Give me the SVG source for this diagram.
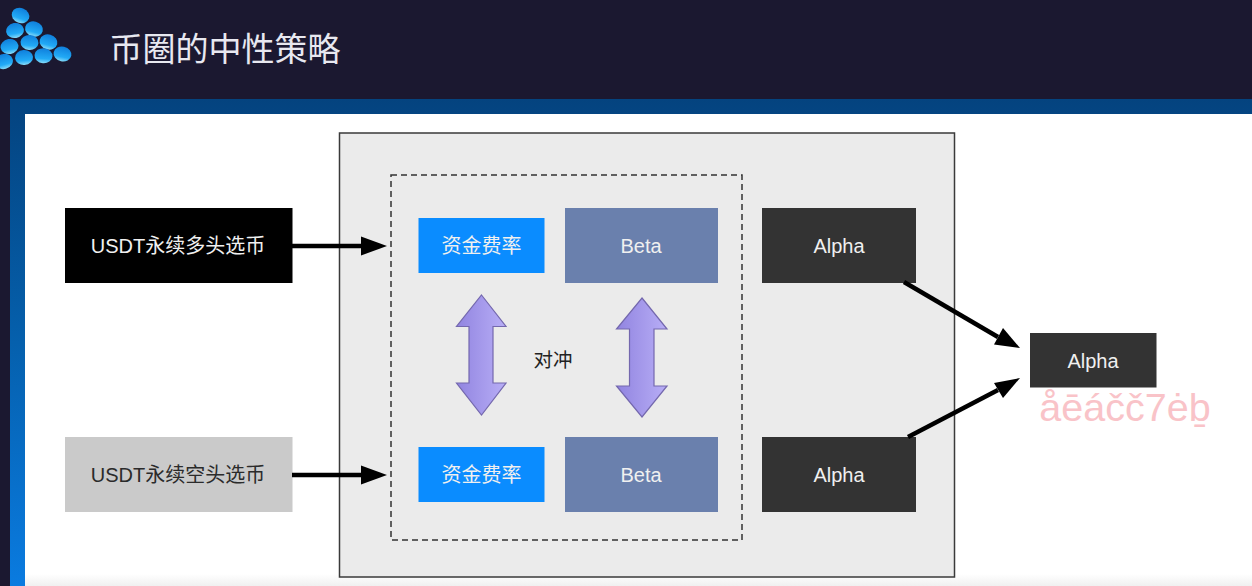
<svg xmlns="http://www.w3.org/2000/svg" width="1252" height="586" viewBox="0 0 1252 586">
<defs>
<style>
text{font-family:"Liberation Sans","Noto Sans CJK SC",sans-serif;text-anchor:middle}
.w{fill:#f0f0f0;font-size:20px}
.k{fill:#2b2b2b;font-size:20px}
.fee{fill:#0a8cff}
.beta{fill:#6a80ad}
.alpha{fill:#333333}
.dbl{fill:url(#pur);stroke:#7468ae;stroke-width:1.2}
.ar{stroke:#000;stroke-width:4.5;fill:none}
.ah{fill:#000}
.dot{fill:url(#dot)}
</style>
<linearGradient id="pur" x1="0" x2="1" y1="0" y2="0"><stop offset="0" stop-color="#9184e0"/><stop offset="1" stop-color="#b8aef6"/></linearGradient>
<linearGradient id="dot" x1="0" x2="0" y1="0" y2="1"><stop offset="0" stop-color="#0f7fdc"/><stop offset=".7" stop-color="#22aaf6"/><stop offset="1" stop-color="#8adcf8"/></linearGradient>
<linearGradient id="side" x1="0" x2="0" y1="0" y2="1"><stop offset="0" stop-color="#04437f"/><stop offset=".5" stop-color="#0560ad"/><stop offset="1" stop-color="#0a7be0"/></linearGradient>
<linearGradient id="fade" x1="0" x2="0" y1="0" y2="1"><stop offset="0" stop-color="#ffffff"/><stop offset="1" stop-color="#f0f0f0"/></linearGradient>
</defs>
<rect width="1252" height="586" fill="#1b1830"/>
<rect x="10" y="99" width="1242" height="487" fill="url(#side)"/>
<rect x="25" y="114" width="1227" height="472" fill="#ffffff"/>
<rect x="25" y="574" width="1227" height="12" fill="url(#fade)"/>
<g id="logo">
<ellipse class="dot" cx="20.500" cy="15.500" rx="9" ry="7.500" transform="rotate(20 20.500 15.500)"/>
<ellipse class="dot" cx="15" cy="30.500" rx="9" ry="7.500" transform="rotate(-10 15 30.500)"/>
<ellipse class="dot" cx="34" cy="29" rx="9" ry="7.500" transform="rotate(15 34 29)"/>
<ellipse class="dot" cx="9.500" cy="46.500" rx="9" ry="7.500" transform="rotate(-10 9.500 46.500)"/>
<ellipse class="dot" cx="29.500" cy="42.500" rx="9" ry="7.500" transform="rotate(5 29.500 42.500)"/>
<ellipse class="dot" cx="48.500" cy="42" rx="9" ry="7.500" transform="rotate(15 48.500 42)"/>
<ellipse class="dot" cx="4" cy="61.500" rx="9" ry="7.500" transform="rotate(-15 4 61.500)"/>
<ellipse class="dot" cx="24" cy="57.500" rx="9" ry="7.500" transform="rotate(-5 24 57.500)"/>
<ellipse class="dot" cx="43.500" cy="55.700" rx="9" ry="7.500" transform="rotate(5 43.500 55.700)"/>
<ellipse class="dot" cx="62.500" cy="54" rx="9" ry="7.500" transform="rotate(12 62.500 54)"/>
</g>
<text id="title" x="225" y="61" fill="#e8e8f0" style="font-size:33px">币圈的中性策略</text>
<g id="panel"><rect x="339.500" y="133" width="615" height="444" fill="#ebebeb" stroke="#3a3a3a" stroke-width="1.500"/></g>
<g id="hedge-box"><rect x="391" y="175" width="351" height="365" fill="none" stroke="#333" stroke-width="1.500" stroke-dasharray="6 4"/></g>
<g id="long"><rect x="65" y="208" width="227.500" height="75" fill="#000"/><text class="w" x="178" y="252.500">USDT永续多头选币</text></g>
<g id="short"><rect x="65" y="437" width="227.500" height="75" fill="#cacaca"/><text class="k" x="178" y="481.500">USDT永续空头选币</text></g>
<g id="fee-top"><rect class="fee" x="418.500" y="218" width="126" height="55"/><text class="w" x="481.500" y="252.500">资金费率</text></g>
<g id="fee-bottom"><rect class="fee" x="418.500" y="447" width="126" height="55"/><text class="w" x="481.500" y="481.500">资金费率</text></g>
<g id="beta-top"><rect class="beta" x="565" y="208" width="153" height="75"/><text class="w" x="641" y="252.500">Beta</text></g>
<g id="beta-bottom"><rect class="beta" x="565" y="437" width="153" height="75"/><text class="w" x="641" y="481.500">Beta</text></g>
<g id="alpha-top"><rect class="alpha" x="762" y="208" width="154" height="75"/><text class="w" x="839" y="252.500">Alpha</text></g>
<g id="alpha-bottom"><rect class="alpha" x="762" y="437" width="154" height="75"/><text class="w" x="839" y="481.500">Alpha</text></g>
<g id="alpha-result"><rect class="alpha" x="1030" y="333" width="126.500" height="54.500"/><text class="w" x="1093" y="367.500">Alpha</text></g>
<g id="hedge-label"><text x="553" y="367" fill="#222" style="font-size:19.500px">对冲</text></g>
<g id="hedge-arrow-left"><polygon class="dbl" points="481.500,295 506,326.500 493,326.500 493,383 506,383 481.500,415 456.500,383 469,383 469,326.500 456.500,326.500"/></g>
<g id="hedge-arrow-right"><polygon class="dbl" points="642,298 667,329 654,329 654,386 667,386 642,417 616.500,386 629.500,386 629.500,329 616.500,329"/></g>
<g id="connectors">
<line class="ar" x1="292" y1="246" x2="365" y2="246"/><polygon class="ah" points="387,246 361,236.500 361,255.500"/>
<line class="ar" x1="292" y1="475" x2="365" y2="475"/><polygon class="ah" points="387,475 361,465.500 361,484.500"/>
<line class="ar" x1="904" y1="282" x2="998" y2="337"/><polygon class="ah" points="1020,348 1003,328 994,344.500"/>
<line class="ar" x1="908" y1="437" x2="998" y2="390"/><polygon class="ah" points="1020,378 994,383 1003,398"/>
</g>
<text id="watermark" x="1125" y="421" fill="#f9c3c8" style="font-size:39.500px">åēáčč7ėḇ</text>
</svg>
